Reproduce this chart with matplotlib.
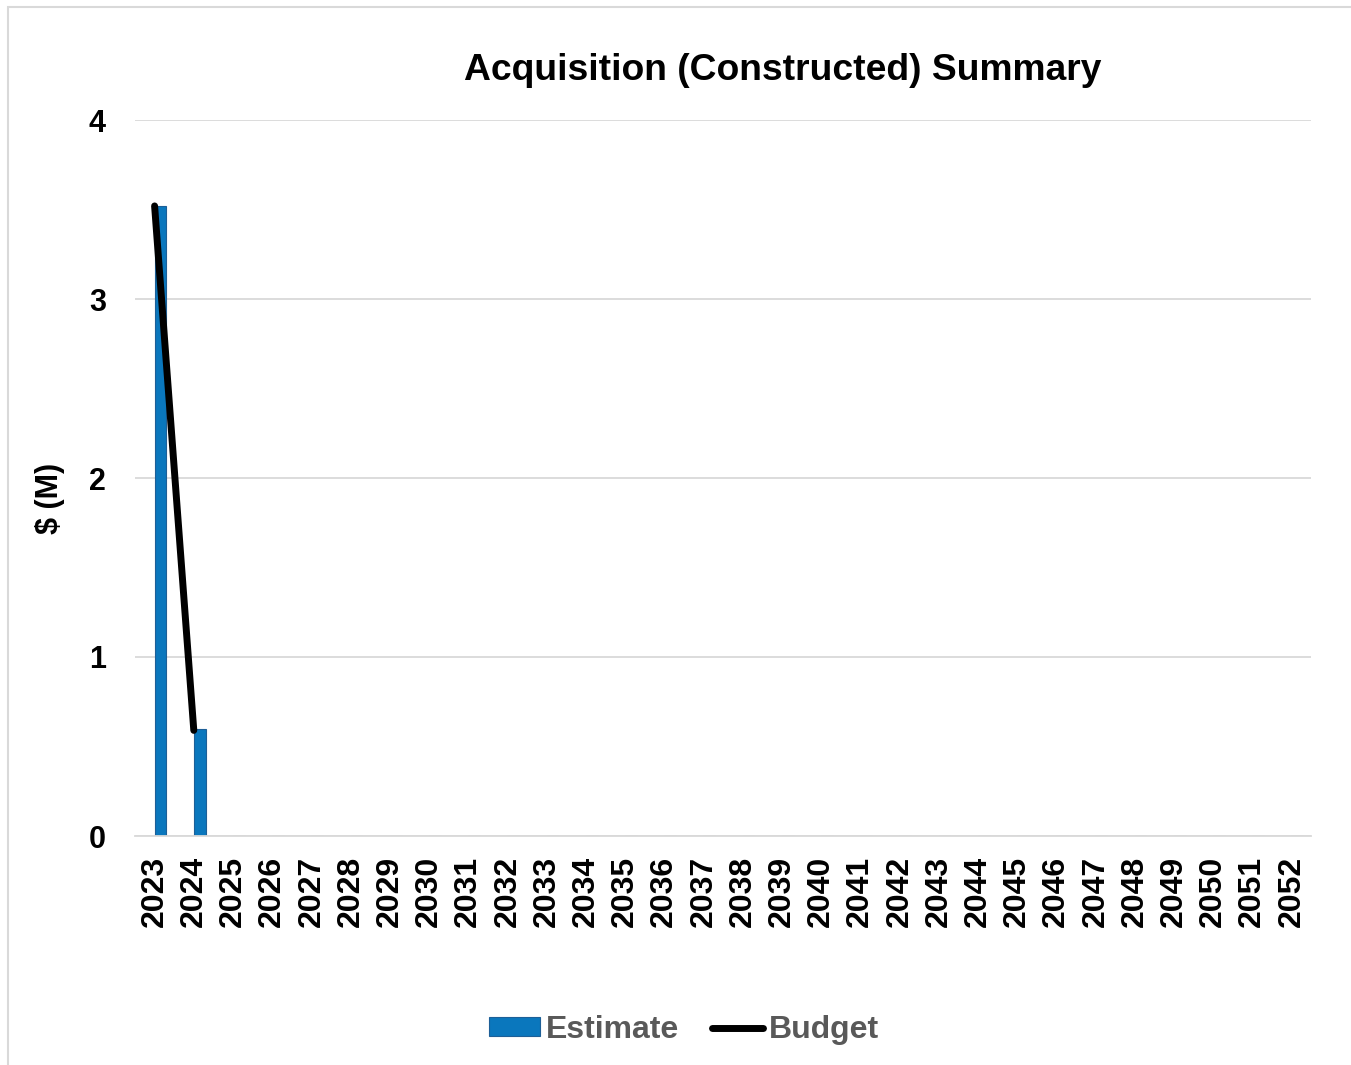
import matplotlib
matplotlib.use("Agg")
import matplotlib.pyplot as plt
from matplotlib.patches import Rectangle, Patch
from matplotlib.lines import Line2D
import numpy as np

plt.rcParams['font.family'] = ['Liberation Sans', 'DejaVu Sans']
plt.rcParams['font.weight'] = 'bold'

years = [str(y) for y in range(2023, 2053)]
estimate = [3.52, 0.60] + [0.0] * 28
budget_years = ["2023", "2024"]
budget = [3.52, 0.59]
y_ticks = [0, 1, 2, 3, 4]

W, H = 1351, 1065
fig = plt.figure(figsize=(W / 100, H / 100), dpi=100)

# light outer frame of the chart area
fig.patches.append(Rectangle((8 / W, -0.1), 1.2, 1 - 7 / H + 0.1,
                             transform=fig.transFigure, fill=False,
                             edgecolor='#d9d9d9', linewidth=1.5, zorder=0))

ax = fig.add_axes([135 / W, 1 - 836 / H, (1311 - 135) / W, (836 - 120) / H])

x = np.arange(len(years))
bar_w = 0.3
# estimate bars sit just right of each category centre
ax.bar(x, estimate, width=bar_w, align='edge', color='#0a77bd',
       edgecolor='#1d5f97', linewidth=0.8, zorder=2)

bx = np.array([years.index(y) for y in budget_years])
ax.plot(bx, budget, color='black', linewidth=5, solid_capstyle='round',
        zorder=3)

ax.set_xlim(-0.5, len(years) - 0.5)
ax.set_ylim(0, 4)
ax.set_yticks(y_ticks)
ax.set_yticklabels([str(t) for t in y_ticks], fontsize=22, fontweight='bold')
ax.set_xticks(x)
ax.set_xticklabels(years, rotation=90, fontsize=23, fontweight='bold')
ax.tick_params(axis='both', length=0)
ax.tick_params(axis='y', pad=21)
ax.tick_params(axis='x', pad=14)

ax.grid(axis='y', color='#d9d9d9', linewidth=1.3, zorder=0)
ax.set_axisbelow(True)
for s in ['top', 'right', 'left']:
    ax.spines[s].set_visible(False)
ax.spines['bottom'].set_color('#d9d9d9')
ax.spines['bottom'].set_linewidth(1.3)

fig.text(50 / W, 1 - 498 / H, '$ (M)', rotation=90, fontsize=22,
         fontweight='bold', ha='center', va='center')

fig.text(783 / W, 1 - 70 / H, 'Acquisition (Constructed) Summary',
         fontsize=26.8, fontweight='bold', ha='center', va='center')

handles = [Patch(facecolor='#0a77bd', edgecolor='#1d5f97', linewidth=0.8),
           Line2D([0], [0], color='black', linewidth=5, solid_capstyle='round')]
leg = fig.legend(handles, ['Estimate', 'Budget'], loc='center',
                 bbox_to_anchor=(684 / W, 1 - 1030 / H), ncol=2, frameon=False,
                 prop={'size': 23, 'weight': 'bold'}, handlelength=1.6,
                 handleheight=0.55, handletextpad=0.2, columnspacing=1.0)
for t in leg.get_texts():
    t.set_color('#595959')

fig.savefig('out.png', dpi=100)
